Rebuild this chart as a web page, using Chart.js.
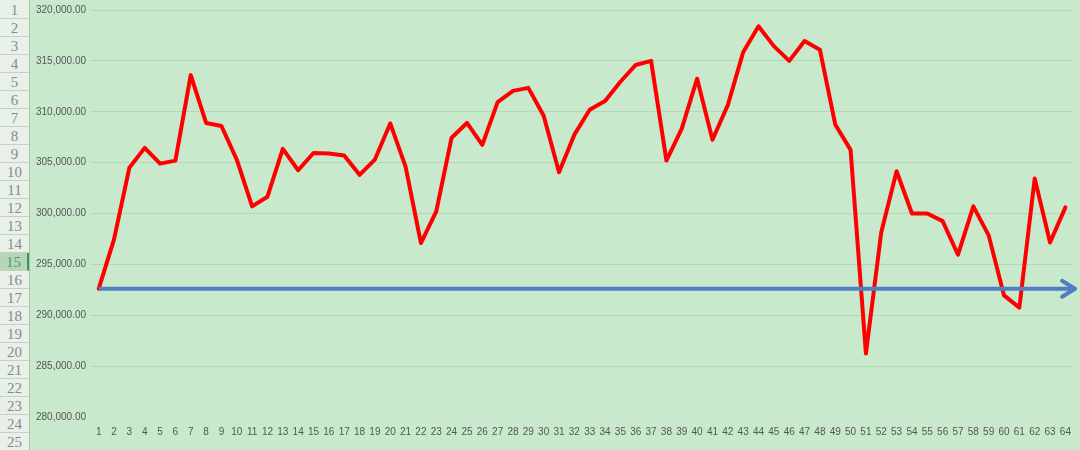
<!DOCTYPE html>
<html lang="en">

<head>
  <meta charset="UTF-8">
  <title>Line chart with baseline arrow</title>
  <style>
    body {
      margin: 0;
      width: 1080px;
      height: 450px;
      overflow: hidden;
      background-color: #c9e9cd;
      position: relative;
    }

    #row-headers {
      position: absolute;
      left: 0;
      top: 0;
      width: 29px;
      height: 450px;
      background-color: #e8f1e8;
      border-right: 1px solid #aebfae;
    }

    .row {
      position: absolute;
      left: 0;
      width: 29px;
      height: 17px;
      border-bottom: 1px solid #c3d2c3;
      font-family: "Liberation Serif", serif;
      font-size: 15px;
      line-height: 18px;
      text-align: center;
      color: #8a8a8a;
    }

    .row.active {
      background-color: #b6d6b9;
      color: #4f9a5c;
      border-right: 2px solid #3f9a4f;
      width: 27px;
    }

    #chart-container {
      position: absolute;
      left: 30px;
      top: 0;
      width: 1050px;
      height: 450px;
    }
  </style>
</head>

<body>
  <div id="row-headers"></div>
  <div id="chart-container">
    <canvas id="lineChart"></canvas>
  </div>

  <script src="https://cdn.jsdelivr.net/npm/chart.js"></script>
  <script>
    // spreadsheet row numbers shown at the left edge
    const rowLabels = ['1', '2', '3', '4', '5', '6', '7', '8', '9', '10', '11', '12', '13',
      '14', '15', '16', '17', '18', '19', '20', '21', '22', '23', '24', '25'];
    const activeRow = '15';

    const xLabels = ['1', '2', '3', '4', '5', '6', '7', '8', '9', '10', '11', '12', '13', '14', '15', '16',
      '17', '18', '19', '20', '21', '22', '23', '24', '25', '26', '27', '28', '29', '30', '31', '32',
      '33', '34', '35', '36', '37', '38', '39', '40', '41', '42', '43', '44', '45', '46', '47', '48',
      '49', '50', '51', '52', '53', '54', '55', '56', '57', '58', '59', '60', '61', '62', '63', '64'];

    const values = [
      292600, 297450, 304500, 306450, 304900, 305200, 313600, 308900,
      308600, 305300, 300700, 301650, 306350, 304250, 305950, 305900,
      305700, 303800, 305300, 308850, 304600, 297100, 300200, 307450,
      308900, 306750, 310950, 312050, 312350, 309600, 304050, 307750,
      310200, 311050, 312950, 314600, 315000, 305200, 308350, 313250,
      307250, 310650, 315850, 318400, 316450, 315000, 316950, 316100,
      308750, 306250, 286250, 298150, 304150, 300000, 300000, 299250,
      295950, 300700, 297850, 291950, 290750, 303450, 297150, 300600
    ];

    const baselineValue = 292600;
    const baseline = xLabels.map(() => baselineValue);

    const yTicks = [280000, 285000, 290000, 295000, 300000, 305000, 310000, 315000, 320000];

    // row header column
    const headerBox = document.getElementById('row-headers');
    rowLabels.forEach((label, i) => {
      const div = document.createElement('div');
      div.className = 'row' + (label === activeRow ? ' active' : '');
      div.style.top = (1 + i * 18) + 'px';
      div.textContent = label;
      headerBox.appendChild(div);
    });

    // extends the baseline series to the right edge and adds the arrow head
    const arrowPlugin = {
      id: 'arrowHead',
      afterDatasetsDraw(chart) {
        const meta = chart.getDatasetMeta(1);
        const last = meta.data[meta.data.length - 1];
        const tipX = chart.chartArea.right + 2;
        const y = last.y;
        const c = chart.ctx;
        c.save();
        c.strokeStyle = '#4f7fc0';
        c.lineWidth = 4;
        c.lineCap = 'round';
        c.lineJoin = 'round';
        c.beginPath();
        c.moveTo(last.x, y);
        c.lineTo(tipX - 2, y);
        c.stroke();
        c.beginPath();
        c.moveTo(tipX - 13, y - 8);
        c.lineTo(tipX, y);
        c.lineTo(tipX - 13, y + 8);
        c.stroke();
        c.restore();
      }
    };

    const ctx = document.getElementById('lineChart').getContext('2d');

    const chart = new Chart(ctx, {
      type: 'line',
      data: {
        labels: xLabels,
        datasets: [
          {
            label: 'Value',
            data: values,
            borderColor: '#ff0000',
            borderWidth: 4,
            borderJoinStyle: 'round',
            borderCapStyle: 'round',
            pointRadius: 0,
            tension: 0,
            order: 2
          },
          {
            label: 'Baseline',
            data: baseline,
            borderColor: '#4f7fc0',
            borderWidth: 4,
            pointRadius: 0,
            tension: 0,
            order: 1
          }
        ]
      },
      options: {
        animation: false,
        responsive: true,
        maintainAspectRatio: false,
        layout: {
          padding: { top: 8, left: 6, right: 5, bottom: 0 }
        },
        plugins: {
          legend: { display: false },
          tooltip: { enabled: false }
        },
        scales: {
          x: {
            type: 'category',
            offset: true,
            grid: { display: false, drawTicks: false },
            border: { display: false },
            ticks: {
              autoSkip: false,
              maxRotation: 0,
              minRotation: 0,
              padding: 9,
              color: '#555555',
              font: { family: 'Liberation Sans', size: 10 }
            },
            afterFit(scale) {
              scale.height = 33;
            }
          },
          y: {
            min: 280000,
            max: 320000,
            afterBuildTicks(scale) {
              scale.ticks = yTicks.map(v => ({ value: v }));
            },
            grid: {
              drawTicks: false,
              lineWidth: 1,
              color: (c) => c.tick && c.tick.value === 280000 ? 'rgba(0,0,0,0)' : '#b1d9b5'
            },
            border: { display: false },
            ticks: {
              crossAlign: 'far',
              padding: 4,
              color: '#555555',
              font: { family: 'Liberation Sans', size: 10 },
              callback: (v) => v.toLocaleString('en-US', { minimumFractionDigits: 2, maximumFractionDigits: 2 })
            },
            afterFit(scale) {
              scale.width = 55;
            }
          }
        }
      },
      plugins: [arrowPlugin]
    });
  </script>
</body>

</html>
